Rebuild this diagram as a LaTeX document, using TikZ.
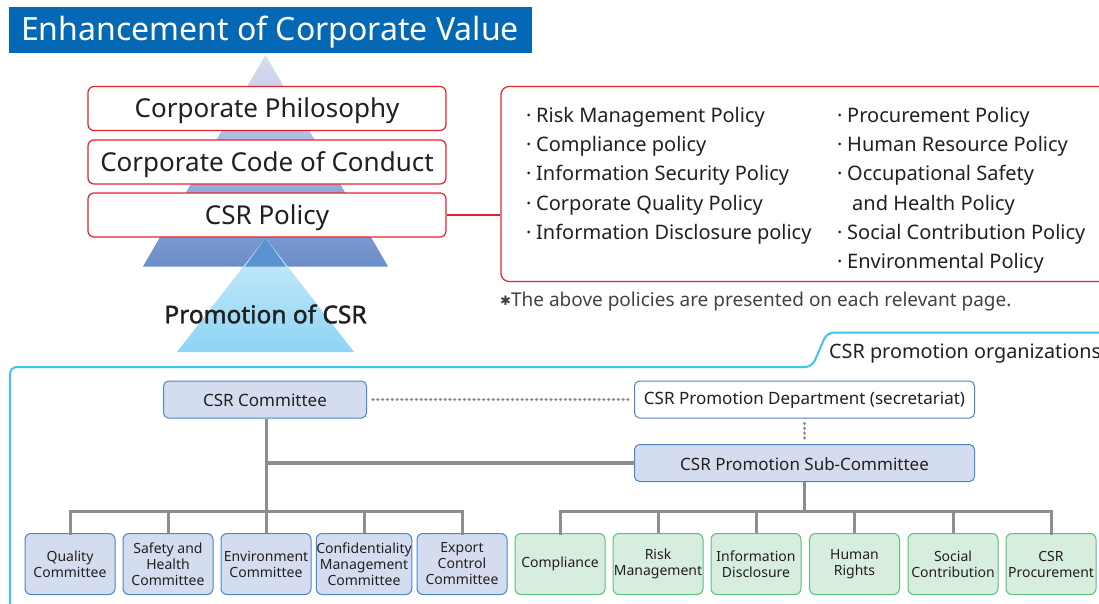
\documentclass[tikz,border=0pt]{standalone}
\usepackage{fontspec}
\setmainfont{Noto Sans}
\newfontfamily\djv{DejaVu Sans}
\newfontfamily\boldns[FakeBold=1.6]{Noto Sans}
\usetikzlibrary{calc}
\definecolor{ctitle}{HTML}{0468B4}
\definecolor{cred}{HTML}{E5222B}
\definecolor{ctext}{HTML}{231F20}
\definecolor{cblueb}{HTML}{4A86C8}
\definecolor{cpale}{HTML}{D4DDEF}
\definecolor{cgreenb}{HTML}{5DBF7C}
\definecolor{cmint}{HTML}{D7EDDE}
\definecolor{ccyan}{HTML}{3EC3EE}
\definecolor{cgrey}{HTML}{8E8E8E}
\definecolor{cdot}{HTML}{8A8A8A}
\definecolor{tritop}{HTML}{D8DEF0}
\definecolor{tribot}{HTML}{6B8DC9}
\definecolor{lowtop}{HTML}{CDEBF9}
\definecolor{lowbot}{HTML}{8ED5F5}
\definecolor{overlap}{HTML}{5A93CF}
\newcommand\polbul{\makebox[15pt][c]{·}}
\newcommand\lowr[2]{\raisebox{-#1}[\height][\depth]{#2}}
\tikzset{
  redbox/.style={draw=cred, line width=1.2pt, fill=white, rounded corners=6pt,
    minimum width=358pt, minimum height=44pt, inner sep=0pt, text=ctext,
    font=\fontsize{26}{30}\selectfont},
  orgbox/.style={draw=cblueb, line width=1pt, fill=cpale, rounded corners=5pt,
    inner sep=0pt, text=ctext, font=\fontsize{17}{20}\selectfont},
  whitebox/.style={orgbox, fill=white},
  combox/.style={draw=cblueb, line width=1pt, fill=cpale, rounded corners=6pt,
    minimum width=90pt, minimum height=61pt, inner sep=0pt, text=ctext, align=center,
    font=\fontsize{14}{16}\selectfont},
  grnbox/.style={combox, draw=cgreenb, fill=cmint},
  polline/.style={anchor=west, inner sep=0pt, text=ctext, font=\fontsize{20}{24}\selectfont},
  tree/.style={draw=cgrey, line width=3pt},
  dotline/.style={draw=cdot, line width=3.6pt, line cap=round, dash pattern=on 0.01pt off 4.8pt}
}
\begin{document}
\begin{tikzpicture}[x=1pt,y=-1pt]
\path[use as bounding box, clip] (0,0) rectangle (1099,604);
\fill[white] (0,0) rectangle (1099,604);

% title
\node[fill=ctitle, text=white, minimum width=523pt, minimum height=46pt, inner sep=0pt,
  font=\fontsize{32}{36}\selectfont] (title) at (270,30) {\lowr{2.5pt}{Enhancement of Corporate Value}};

% triangles
\shade[top color=tritop, bottom color=tribot] (265.5,55) -- (388,266.5) -- (143,266.5) -- cycle;
\shade[top color=lowtop, bottom color=lowbot] (265.5,238) -- (354,352) -- (177,352) -- cycle;
\fill[overlap] (265.5,238) -- (286,266.5) -- (245,266.5) -- cycle;

% red boxes
\node[redbox] (phil) at (267,108.5) {\lowr{2.5pt}{Corporate Philosophy}};
\node[redbox] (code) at (267,162) {\lowr{2.5pt}{Corporate Code of Conduct}};
\node[redbox] (csrpol) at (267,215) {\lowr{2.5pt}{CSR Policy}};

% policies box
\node[draw=cred, line width=1.2pt, rounded corners=8pt, minimum width=612pt,
  minimum height=195pt, inner sep=0pt] (policies) at (807,184) {};
\draw[cred, line width=2.5pt] (csrpol.east) -- (csrpol.east -| policies.west);

\node[polline] (p1) at (521,117) {\polbul Risk Management Policy};
\node[polline] (p2) at (521,146) {\polbul Compliance policy};
\node[polline] (p3) at (521,175) {\polbul Information Security Policy};
\node[polline] (p4) at (521,205) {\polbul Corporate Quality Policy};
\node[polline] (p5) at (521,234) {\polbul Information Disclosure policy};
\node[polline] (q1) at (832,117) {\polbul Procurement Policy};
\node[polline] (q2) at (832,146) {\polbul Human Resource Policy};
\node[polline] (q3) at (832,175) {\polbul Occupational Safety};
\node[polline] (q4) at (852,205) {and Health Policy};
\node[polline] (q5) at (832,234) {\polbul Social Contribution Policy};
\node[polline] (q6) at (832,263) {\polbul Environmental Policy};

\node[anchor=west, inner sep=0pt, text=ctext!85, font=\fontsize{19}{22}\selectfont] (note) at (500,302)
  {{\djv\fontsize{13}{16}\selectfont\raisebox{1.5pt}{✱}}The above policies are presented on each relevant page.};

% promotion of CSR
\node[inner sep=0pt, text=ctext, font=\fontsize{24.5}{30}\boldns] (promo) at (265.5,314) {Promotion of CSR};

% cyan frame
\draw[ccyan, line width=2pt, rounded corners=7pt] (10,620) -- (10,367) -- (812,367) -- (827,332.5) -- (1110,332.5);
\node[anchor=west, inner sep=0pt, text=ctext, font=\fontsize{19.8}{24}\selectfont] (orgs) at (829,354) {CSR promotion organizations};

% middle boxes
\node[orgbox, minimum width=203pt, minimum height=37pt] (csrc) at (265,399.5) {\lowr{1pt}{CSR Committee}};
\node[whitebox, minimum width=340pt, minimum height=37pt] (dept) at (804.5,399.5) {\lowr{1pt}{CSR Promotion Department (secretariat)}};
\node[orgbox, minimum width=340pt, minimum height=37pt] (sub) at (804.5,463) {\lowr{1pt}{CSR Promotion Sub-Committee}};

\draw[dotline] ($(csrc.east)+(6,0)$) -- ($(dept.west)+(-4,0)$);
\draw[dotline] ($(dept.south)+(0,5)$) -- ($(sub.north)+(0,-3)$);

% bottom boxes
\node[combox] (b1) at (70,564) {Quality\\Committee};
\node[combox] (b2) at (168,564) {Safety and\\Health\\Committee};
\node[combox] (b3) at (266,564) {Environment\\Committee};
\node[combox] (b4) at (364,564) {Confidentiality\\Management\\Committee};
\node[combox] (b5) at (462,564) {Export\\Control\\Committee};
\node[grnbox] (g1) at (560,564) {Compliance};
\node[grnbox] (g2) at (658,564) {Risk\\Management};
\node[grnbox] (g3) at (756,564) {Information\\Disclosure};
\node[grnbox] (g4) at (854.5,564) {Human\\Rights};
\node[grnbox] (g5) at (953,564) {Social\\Contribution};
\node[grnbox] (g6) at (1051,564) {CSR\\Procurement};

% tree connectors
\coordinate (lbus) at (266,511);
\coordinate (rbus) at (804.5,511);
\draw[tree] (csrc.south -| b3) -- (lbus);
\draw[tree, line width=4pt] (sub.west) -- (sub.west -| b3.north);
\draw[tree] (sub.south) -- (rbus);
\draw[tree, line cap=rect] (b1.north) -- (b1.north |- lbus) -- (b5.north |- lbus) -- (b5.north);
\foreach \n in {b2,b3,b4} \draw[tree] (\n.north) -- (\n.north |- lbus);
\draw[tree, line cap=rect] (g1.north) -- (g1.north |- rbus) -- (g6.north |- rbus) -- (g6.north);
\foreach \n in {g2,g3,g4,g5} \draw[tree] (\n.north) -- (\n.north |- rbus);
\end{tikzpicture}
\end{document}
